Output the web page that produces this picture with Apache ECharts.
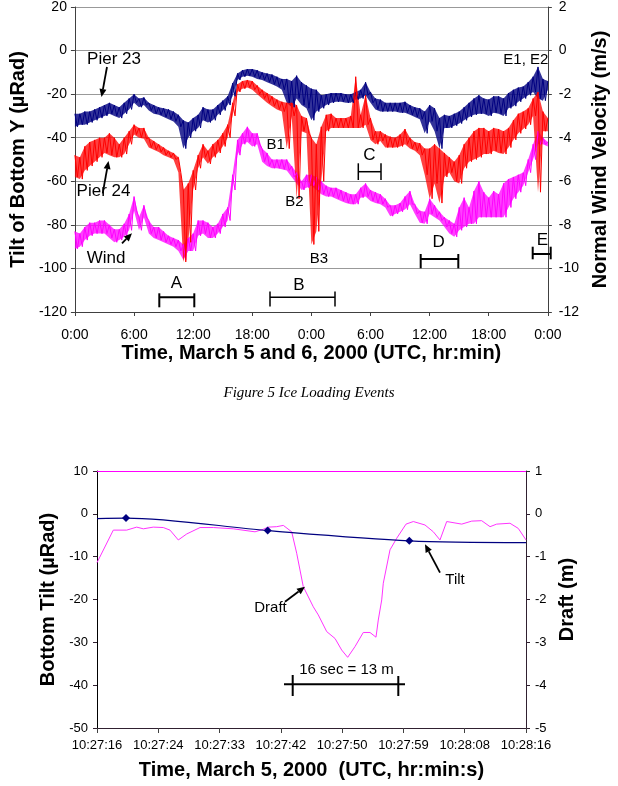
<!DOCTYPE html>
<html>
<head>
<meta charset="utf-8">
<script src="https://cdn.jsdelivr.net/npm/echarts@6/dist/echarts.min.js"></script>
<style>
html,body{margin:0;padding:0;background:#fff;}
#chart{width:618px;height:786px;}
</style>
</head>
<body>
<div id="chart"></div>
<script>
// ---------- Top chart: Figure 5 (March 5 and 6, 2000) ----------
const topTickLabels = ['0:00','6:00','12:00','18:00','0:00','6:00','12:00','18:00','0:00'];
// envelope readings every 0.5 h (hour = index*0.5): upper and lower edge of the noisy trace
const pier23Hi = [-29,-29,-28,-28,-27,-26,-25,-24,-25,-26,-24,-22,-20,-22,-21.5,-24,-25,-26,-26.5,-27,-28,-29.5,-32,-33,-31,-29.5,-26,-27,-27,-25,-23,-21,-15,-10.5,-9,-8.5,-8.5,-9,-10,-10.5,-11,-12,-13,-13,-14,-11.5,-14.5,-16,-17.5,-18,-20.5,-20,-19.5,-19.5,-19.5,-20,-20,-19,-18,-14.5,-19,-22,-22.5,-24,-24,-24,-24,-23.5,-25,-26,-26.5,-28,-25,-26.5,-31,-29.5,-30,-29,-28,-26,-24,-22,-20.5,-22,-22.5,-21,-21,-22,-19.5,-18,-17,-16.5,-14.5,-12,-7.5,-13,-14];
const pier23Lo = [-35,-34,-34,-33,-32,-31,-30,-29,-30,-31,-29,-27,-24,-26,-25,-27.5,-29,-29.5,-30.5,-31.5,-32.5,-35,-45,-40,-37,-35.5,-32,-33,-32,-29.5,-27.5,-25,-21,-13.5,-12,-11.5,-12,-13,-13.5,-14.5,-15.5,-16.5,-18,-24,-26,-22,-25,-26.5,-32,-28,-26.5,-25,-24,-23.5,-23.5,-24,-24,-22.5,-22,-20.5,-24,-27,-28,-28,-28,-28,-28.5,-28.5,-29.5,-30.5,-31.5,-38,-32.5,-37,-45,-35.5,-35.5,-34.5,-33.5,-32,-30.5,-29.5,-29,-29,-30,-28.5,-29,-30,-26.5,-25.5,-23.5,-22,-20.5,-19,-22,-23,-18];
const pier24Hi = [-48,-49,-44,-42,-41,-40,-40,-38,-40,-43,-40,-37,-34,-35.5,-35.5,-40,-41.5,-43,-44.5,-46,-47,-49,-64,-61,-55,-48,-43,-46,-43,-41,-38,-34,-24,-15.5,-14,-13.5,-14,-16,-18,-19.5,-21,-22.5,-23.5,-24,-24,-25,-30,-31,-40,-43,-35,-29.5,-29,-31,-31,-31,-30,-12,-29.5,-20.5,-31,-37,-37,-38.5,-39.5,-40,-38.5,-36,-40,-42,-42.5,-45,-45,-43,-45,-47,-49,-51,-48,-43,-40,-37,-35.5,-35.5,-37,-35.5,-36,-37,-35.5,-32,-29,-28,-26.5,-22,-19,-28,-31];
const pier24Lo = [-58,-59,-55,-53,-51,-49,-47,-48,-49,-49,-47.5,-43,-38.5,-40,-40.5,-44.5,-45.5,-46.5,-48,-49,-50,-56,-97,-88,-64,-54,-49,-52,-49,-47,-44,-40,-30,-19,-17.5,-17,-18,-20,-22,-24,-25.5,-27,-28,-45,-30,-68,-37,-38,-89,-83,-60,-37,-35.5,-35.5,-35.5,-35.5,-35.5,-35.5,-35.5,-34,-41,-43,-41.5,-44.5,-44.5,-44.5,-44,-43,-45,-46,-48,-57,-68,-61,-70,-58,-56,-60,-61,-54,-51,-50,-49,-47.5,-47.5,-46,-47,-47.5,-44.5,-41,-38,-36,-34,-30,-65,-37,-37];
const windHi = [-8.3,-8.4,-8.1,-7.9,-7.9,-7.8,-7.8,-8.0,-8.2,-8.2,-7.95,-7.5,-6.7,-7.65,-7.1,-7.8,-8.1,-8.1,-8.3,-8.5,-8.6,-8.7,-8.9,-8.6,-8.4,-7.8,-7.8,-7.9,-8.1,-7.95,-7.5,-7.2,-5.7,-4.1,-3.8,-3.5,-3.8,-3.8,-4.5,-4.7,-5.0,-5.0,-5.0,-5.0,-5.3,-5.6,-6.0,-5.7,-5.7,-5.8,-6.0,-6.2,-6.3,-6.3,-6.4,-6.5,-6.6,-6.6,-6.3,-6.1,-6.4,-6.5,-6.6,-6.8,-7.1,-7.1,-7.0,-6.7,-6.45,-7.05,-7.35,-7.4,-6.8,-7.1,-7.4,-7.65,-7.8,-7.95,-7.2,-6.75,-7.2,-6.45,-6.0,-6.5,-6.75,-6.45,-6.6,-6.1,-5.9,-5.8,-5.7,-5.6,-5.0,-4.3,-3.7,-4.0,-4.2];
const windLo = [-9.1,-9.0,-8.7,-8.5,-8.4,-8.4,-8.4,-8.6,-8.8,-8.7,-8.55,-8.25,-7.35,-8.25,-7.65,-8.4,-8.6,-8.7,-8.8,-8.9,-9.0,-9.2,-9.6,-9.2,-9.2,-8.5,-8.4,-8.6,-8.6,-8.4,-8.1,-7.8,-6.4,-4.8,-4.3,-4.2,-4.4,-4.3,-5.1,-5.3,-5.4,-5.4,-5.45,-5.5,-5.8,-6.1,-6.4,-6.3,-6.2,-6.4,-6.6,-6.7,-6.7,-6.8,-6.9,-7.0,-7.05,-7.05,-6.75,-6.7,-6.9,-7.0,-7.05,-7.2,-7.6,-7.5,-7.4,-7.3,-7.05,-7.5,-7.9,-7.95,-7.5,-7.65,-7.8,-8.1,-8.4,-8.55,-8.25,-8.1,-7.95,-7.95,-7.65,-7.65,-7.65,-7.65,-7.65,-7.65,-7.2,-6.8,-6.5,-6.2,-5.6,-5.0,-4.3,-4.3,-4.4];
const sampleStepHours = 0.5;

// ---------- Bottom chart: March 5, 2000 10:27:16 - 10:28:16 ----------
const bottomTickLabels = ['10:27:16','10:27:24','10:27:33','10:27:42','10:27:50','10:27:59','10:28:08','10:28:16'];
const secondsPerTick = 60 / 7;
const draftSeconds = [0,2.28,4.15,5.55,6.48,7.87,9.27,10.21,11.37,12.55,14.41,16.27,19.06,22.10,23.26,23.96,25.13,26.06,27.23,27.93,28.85,30.25,30.95,32.13,33.29,34.22,35.06,36.08,37.24,38.18,39.02,39.34,39.82,40.04,40.98,41.92,43.22,44.24,45.87,47.04,47.97,48.91,51.01,52.41,53.80,54.97,55.90,57.76,58.92,60];
const draftMeters = [-1.14,-0.38,-0.38,-0.31,-0.35,-0.31,-0.32,-0.38,-0.61,-0.47,-0.32,-0.32,-0.35,-0.42,-0.36,-0.31,-0.30,-0.27,-0.42,-0.92,-1.70,-2.17,-2.36,-2.75,-2.91,-3.18,-3.35,-3.10,-2.77,-2.77,-2.88,-2.48,-2.01,-1.62,-0.84,-0.57,-0.24,-0.18,-0.26,-0.42,-0.61,-0.18,-0.24,-0.17,-0.16,-0.30,-0.24,-0.22,-0.34,-0.61];
const tiltSeconds = [0, 4.06, 23.87, 43.68, 60];
const tiltMicroRad = [-1.1, -1.0, -3.9, -6.3, -6.7];
const tiltMarked = [false, true, true, true, false];

// ---------- build series data ----------
function zig(hi, lo){
  const out = [];
  for (let i = 0; i < hi.length; i++){
    out.push([i*sampleStepHours, hi[i]]);
    if (i < hi.length - 1) out.push([i*sampleStepHours + sampleStepHours/2, lo[i]]);
  }
  return out;
}
function bandSeries(key, hi, lo, color, yIdx, opacity){
  const data = hi.map((v,i)=>[i*sampleStepHours, v, lo[i]]);
  return [
    {name:key+' band', type:'custom', xAxisIndex:0, yAxisIndex:yIdx, data:data, silent:true,
      encode:{x:0, y:[1,2]},
      renderItem:function(params, api){
        if (params.dataIndex !== 0) return null;
        const pts = [];
        for (let i = 0; i < data.length; i++) pts.push(api.coord([data[i][0], data[i][1]]));
        for (let i = data.length-1; i >= 0; i--) pts.push(api.coord([data[i][0], data[i][2]]));
        return {type:'polygon', shape:{points:pts}, style:{fill:color, opacity:opacity}};
      }},
    {name:key, type:'line', xAxisIndex:0, yAxisIndex:yIdx, data:zig(hi, lo), showSymbol:false, symbol:'none',
      lineStyle:{color:color, width:1}, itemStyle:{color:color}}
  ];
}

const draftData = draftSeconds.map((s,i)=>[s/secondsPerTick, draftMeters[i]]);
const tiltData = tiltSeconds.map((s,i)=>({
  value:[s/secondsPerTick, tiltMicroRad[i]],
  symbol: tiltMarked[i] ? 'diamond' : 'none',
  symbolSize: tiltMarked[i] ? 8 : 0
}));

const FONT = '"Liberation Sans", Arial, Helvetica, sans-serif';
const AX = '#404040';

function arrow(x1,y1,x2,y2){
  const dx=x2-x1, dy=y2-y1, L=Math.hypot(dx,dy), ux=dx/L, uy=dy/L;
  const hl=8, hw=3.5, bx=x2-ux*hl, by=y2-uy*hl;
  return [
    {type:'line', shape:{x1:x1,y1:y1,x2:bx,y2:by}, style:{stroke:'#000', lineWidth:1.8}, z:100},
    {type:'polygon', shape:{points:[[x2,y2],[bx-uy*hw,by+ux*hw],[bx+uy*hw,by-ux*hw]]}, style:{fill:'#000'}, z:100}
  ];
}
function txt(s,x,y,size){
  return {type:'text', x:x, y:y, z:100, style:{text:s, font:(size)+'px '+FONT, fill:'#000', textAlign:'center', textVerticalAlign:'middle'}};
}
function seg(x1,y1,x2,y2,w){
  return {type:'line', z:100, shape:{x1:x1,y1:y1,x2:x2,y2:y2}, style:{stroke:'#000', lineWidth:w||1.5}};
}
function bracket(xa,xb,y,t,b,w){
  return [seg(xa,y,xb,y,w), seg(xa,t,xa,b,w), seg(xb,t,xb,b,w)];
}

const graphics = [].concat(
  [txt('Pier 23',114,59,17), txt('Pier 24',103.5,191.5,17), txt('Wind',106,258.5,17)],
  arrow(107,67,101.5,97), arrow(102.7,193.3,108.5,161), arrow(122,243.3,132,233.3),
  [txt('B1',275.7,145.3,15), txt('B2',294.5,202,15), txt('B3',318.8,258.7,15), txt('E1, E2',525.8,60.3,15)],
  [txt('A',176.3,283.3,17), txt('B',298.8,285,17), txt('C',369.3,155,17), txt('D',438.7,242,17), txt('E',542.5,240,17)],
  bracket(159.3,194.3,297.3,293.3,307.3,2),
  bracket(270,335,297.3,291.5,306.5,1.5),
  bracket(358.3,381,171.7,163.3,180,1.5),
  bracket(420.7,458.3,259,254,268.3,2),
  bracket(532.7,550.7,254,246.7,259.3,2),
  [{type:'text', x:309, y:393, style:{text:'Figure 5 Ice Loading Events', font:'italic 15px "Liberation Serif", "Times New Roman", serif', fill:'#000', textAlign:'center', textVerticalAlign:'middle'}}],
  [txt('Draft',270.5,608.3,15), txt('Tilt',455,580.3,15), txt('16 sec = 13 m',346.5,670,15)],
  arrow(285,601.7,305,586.7), arrow(440,572.7,425,544.3),
  [seg(284,684.3,405,684.3,2), seg(292.7,675,292.7,696,2), seg(398.3,676,398.3,696,2)]
);

const chart = echarts.init(document.getElementById('chart'), null, {renderer:'canvas'});
const titleStyle = {fontSize:20, fontWeight:'bold', color:'#000', fontFamily:FONT};
chart.setOption({
  animation:false,
  backgroundColor:'#fff',
  textStyle:{fontFamily:FONT},
  grid:[
    {left:64, top:4, width:490, height:308, containLabel:false},
    {left:97, top:471, width:429, height:257, containLabel:false}
  ],
  xAxis:[
    {gridIndex:0, type:'value', min:0, max:48, interval:6,
      axisLine:{show:true, onZero:false, lineStyle:{color:AX, width:1}},
      axisTick:{show:true, length:4, lineStyle:{color:AX}},
      axisLabel:{fontSize:14, color:'#000', margin:16, formatter:v=>topTickLabels[Math.round(v/6)]},
      splitLine:{show:false},
      name:'Time, March 5 and 6, 2000 (UTC, hr:min)', nameLocation:'middle', nameGap:31, nameTextStyle:titleStyle},
    {gridIndex:1, type:'value', min:0, max:7, interval:1,
      axisLine:{show:true, onZero:false, lineStyle:{color:'#302030', width:1}},
      axisTick:{show:true, length:5, lineStyle:{color:AX}},
      axisLabel:{fontSize:13, color:'#000', margin:11, formatter:v=>bottomTickLabels[Math.round(v)]},
      splitLine:{show:false},
      name:'Time, March 5, 2000  (UTC, hr:min:s)', nameLocation:'middle', nameGap:32, nameTextStyle:titleStyle},
    {gridIndex:1, type:'value', min:0, max:7, position:'top',
      axisLine:{show:true, onZero:false, lineStyle:{color:'#ff00ff', width:1}},
      axisTick:{show:false}, axisLabel:{show:false}, splitLine:{show:false}}
  ],
  yAxis:[
    {gridIndex:0, type:'value', min:-120, max:20, interval:20, position:'left',
      axisLine:{show:true, onZero:false, lineStyle:{color:AX}},
      axisTick:{show:true, length:4, lineStyle:{color:AX}},
      axisLabel:{fontSize:14, color:'#000', margin:8},
      splitLine:{show:true, lineStyle:{color:'#999', width:1}},
      name:'Tilt of Bottom Y (µRad)', nameLocation:'middle', nameRotate:90, nameGap:38, nameTextStyle:titleStyle},
    {gridIndex:0, type:'value', min:-12, max:2, interval:2, position:'right',
      axisLine:{show:true, onZero:false, lineStyle:{color:AX}},
      axisTick:{show:true, length:4, lineStyle:{color:AX}},
      axisLabel:{fontSize:14, color:'#000', margin:11},
      splitLine:{show:false},
      name:'Normal Wind Velocity (m/s)', nameLocation:'middle', nameRotate:90, nameGap:42, nameTextStyle:titleStyle},
    {gridIndex:1, type:'value', min:-50, max:10, interval:10, position:'left',
      axisLine:{show:true, onZero:false, lineStyle:{color:'#000'}},
      axisTick:{show:true, length:4, lineStyle:{color:'#000'}},
      axisLabel:{fontSize:13, color:'#000', margin:9},
      splitLine:{show:false},
      name:'Bottom Tilt (µRad)', nameLocation:'middle', nameRotate:90, nameGap:28, nameTextStyle:titleStyle},
    {gridIndex:1, type:'value', min:-5, max:1, interval:1, position:'right',
      axisLine:{show:true, onZero:false, lineStyle:{color:'#302030'}},
      axisTick:{show:true, length:4, lineStyle:{color:'#302030'}},
      axisLabel:{fontSize:13, color:'#000', margin:9},
      splitLine:{show:false},
      name:'Draft (m)', nameLocation:'middle', nameRotate:90, nameGap:31, nameTextStyle:titleStyle},
    {gridIndex:1, type:'value', min:-5, max:1, interval:1, position:'right',
      axisLine:{show:false}, axisTick:{show:true, inside:true, length:4, lineStyle:{color:'#302030'}},
      axisLabel:{show:false}, splitLine:{show:false}}
  ],
  series:[].concat(
    bandSeries('Wind', windHi, windLo, '#ff00ff', 1, 0.75),
    bandSeries('Pier 23', pier23Hi, pier23Lo, '#000080', 0, 0.8),
    bandSeries('Pier 24', pier24Hi, pier24Lo, '#ff0000', 0, 0.75),
    [
      {name:'Draft', type:'line', xAxisIndex:1, yAxisIndex:3, data:draftData, showSymbol:false, symbol:'none',
        lineStyle:{color:'#ff33ff', width:1}, itemStyle:{color:'#ff33ff'}},
      {name:'Tilt', type:'line', xAxisIndex:1, yAxisIndex:2, data:tiltData, smooth:0.3, showSymbol:true, showAllSymbol:true,
        lineStyle:{color:'#000080', width:1.2}, itemStyle:{color:'#000080'}}
    ]
  ),
  graphic:graphics
});
</script>
</body>
</html>
